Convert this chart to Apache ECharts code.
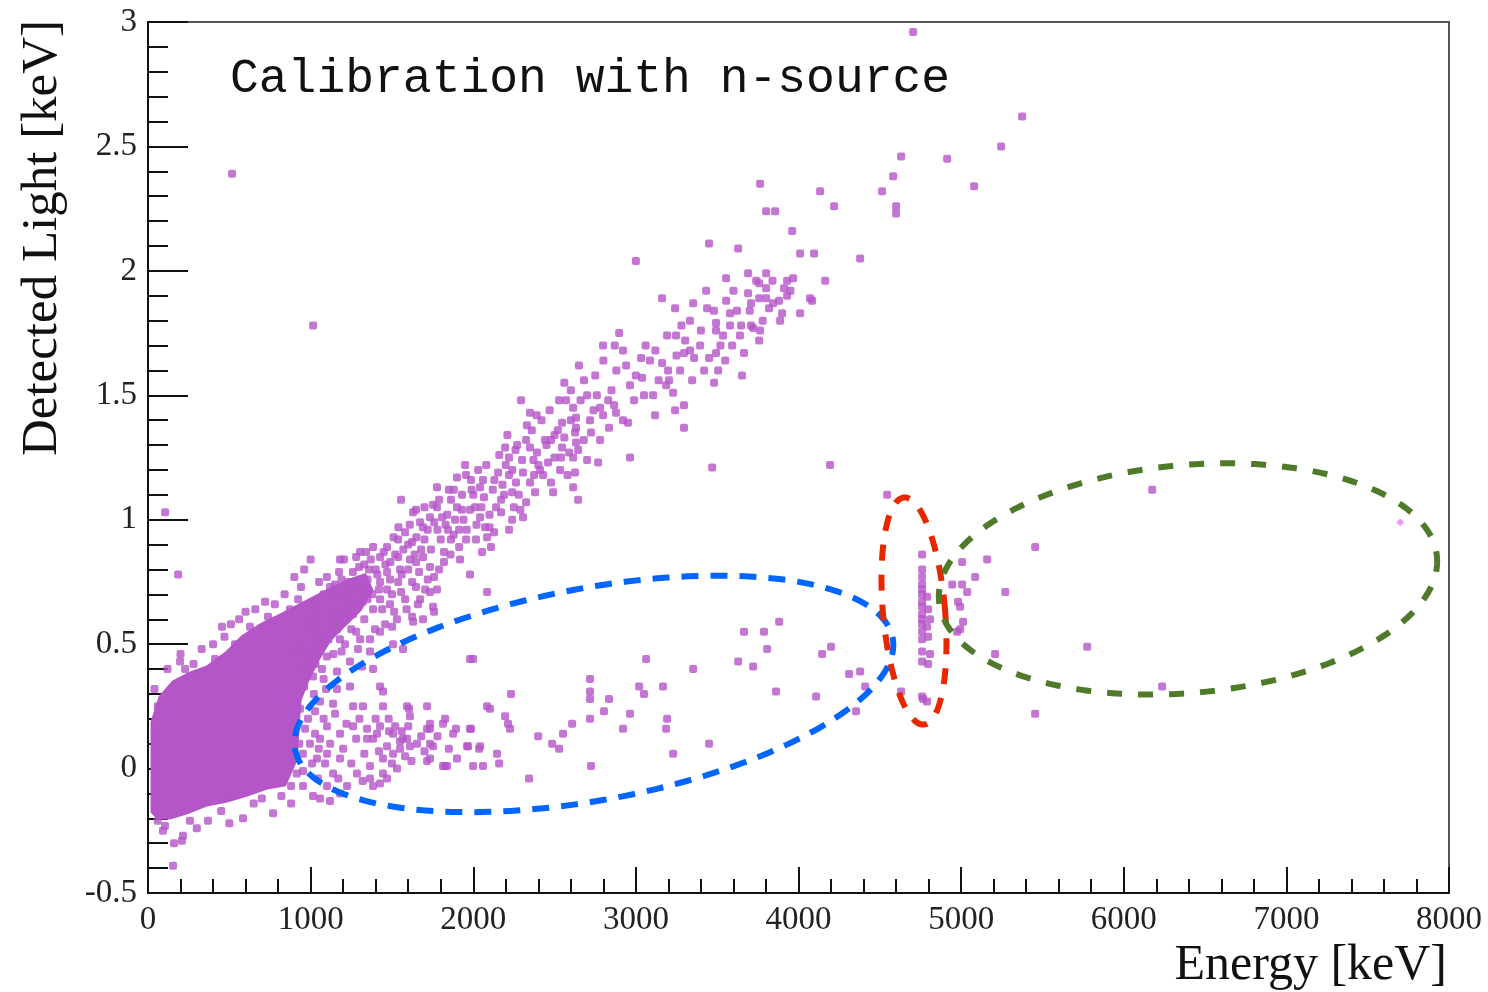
<!DOCTYPE html>
<html>
<head>
<meta charset="utf-8">
<script src="https://cdn.jsdelivr.net/npm/echarts@6/dist/echarts.min.js"></script>
<style>html,body{margin:0;padding:0;background:#fff}#c{width:1488px;height:992px}</style>
</head>
<body>
<div id="c"></div>
<script>
// ---- Axis ticks ----
const xTicks = [0, 1000, 2000, 3000, 4000, 5000, 6000, 7000, 8000];
const yTicks = [-0.5, 0, 0.5, 1, 1.5, 2, 2.5, 3];

// ---- Data (Energy [keV], Detected Light [keV]) ----
const outlierPoints = [[517,2.39],[1015,1.78],[4705,2.96],[105,1.03],[185,0.78],[154,-0.39]];

const upperBandPoints = [[5375,2.62],[5246,2.50],[4914,2.45],[5080,2.34],[4631,2.46],[4582,2.38],[4514,2.32],[4600,2.26],[4600,2.23],[4379,2.05],[4133,2.32],[4219,2.26],[3764,2.35],[3801,2.24],[3856,2.24],[3961,2.16],[4010,2.07],[4096,2.07],[4164,1.96],[4071,1.89],[3450,2.11],[3629,2.09],[3000,2.04],[3161,1.89],[3241,1.85],[3352,1.87],[3438,1.85],[3333,1.80],[3432,1.92],[3555,1.97],[3690,1.99],[3801,1.99],[3758,1.95],[3801,1.93],[3930,1.96],[3967,1.97],[3690,1.91],[3708,1.87],[3758,1.89],[3801,1.89],[3844,1.87],[3911,1.93],[3930,1.90],[3555,1.88],[3579,1.83],[3622,1.84],[3819,1.85],[3899,1.83],[3493,1.79],[3579,1.78],[3708,1.78],[4084,1.88],[4194,1.22],[3469,1.21]];

const bandPoints = [[2897,1.75],[2798,1.70],[2921,1.68],[3032,1.65],[3192,1.74],[3247,1.74],[3303,1.72],[3493,1.76],[3536,1.74],[3647,1.78],[3721,1.77],[3758,1.72],[3296,1.67],[3358,1.65],[3450,1.65],[3493,1.67],[3549,1.64],[3592,1.70],[3665,1.67],[3161,1.63],[3198,1.60],[3204,1.56],[3186,1.54],[3229,1.51],[3272,1.60],[3346,1.56],[3481,1.55],[3506,1.60],[3653,1.58],[3296,1.46],[3241,1.44],[3296,1.37],[3106,1.50],[3050,1.50],[2989,1.48],[3118,1.42],[3087,1.64],[3038,1.57],[2964,1.54],[2866,1.46],[2878,1.43],[2921,1.40],[2952,1.39],[2780,1.45],[2798,1.42],[2835,1.37],[2681,1.56],[2724,1.35],[2614,1.45],[2632,1.41],[2632,1.37],[2626,1.35],[2632,1.31],[2645,1.28],[2614,1.25],[2626,1.19],[2614,1.13],[2645,1.08],[2546,1.39],[2571,1.48],[2528,1.48],[2478,1.32],[2546,1.29],[2589,1.27],[2392,1.27],[2460,1.23],[2478,1.15],[2491,1.11],[2700,1.24],[2768,1.23],[2964,1.25],[2294,1.48],[2349,1.43],[2325,1.32],[2349,1.29],[2196,1.29],[2220,1.25],[2306,1.19],[2374,1.18],[2349,1.15],[2380,1.11],[2153,1.19],[2220,1.18],[2263,1.15],[2239,1.11],[1956,1.18],[1986,1.16],[2042,1.13],[2066,1.09],[1777,1.13],[1863,1.08],[1931,1.10],[2171,1.08],[2140,1.05],[2171,1.03],[2239,1.00],[2220,0.96],[2325,1.07],[2306,1.01],[2011,1.05],[2042,1.01],[2073,0.97],[2085,0.93],[2128,0.95],[2109,0.89],[2017,0.92],[2054,0.87],[1648,1.04],[1734,1.01],[1691,0.97],[1777,1.05],[1808,1.01],[1845,0.96],[1863,0.92],[1913,0.96],[1956,0.92],[1913,0.89],[1556,1.08],[1538,0.92],[1581,0.95],[1624,0.91],[1691,0.85],[1734,0.81],[1759,0.77],[1777,0.72],[1820,0.87],[1820,0.83],[1648,0.83],[1667,0.79],[1624,0.75],[1470,0.89],[1538,0.85],[1341,0.87],[1427,0.85],[1298,0.81],[1359,0.80],[1470,0.79],[1538,0.75],[1205,0.84],[1175,0.79],[1052,0.75],[1119,0.73],[1248,0.72],[1341,0.71],[1427,0.75],[1470,0.72],[1556,0.71],[1648,0.73],[1734,0.71],[941,0.73],[923,0.68],[1033,0.65],[1144,0.63],[1248,0.65],[1384,0.64],[1513,0.63],[1624,0.61],[1691,0.60],[1759,0.63],[2085,0.71],[1181,0.84],[1304,0.87],[1384,0.89],[1630,1.03],[1673,0.99],[1753,1.06],[1427,0.68],[1488,0.66],[1581,0.68],[1673,0.68],[1704,0.72],[1396,0.56],[1304,0.52],[1458,0.58],[1550,0.80],[1488,0.76],[1611,0.84],[1888,1.00],[1980,1.04],[1919,0.84],[1980,0.78],[2411,1.20],[2441,1.32],[2534,1.20],[2718,1.40],[2780,1.32],[3333,1.68],[3395,1.70],[3764,1.76],[3887,1.80],[4010,1.83],
[1080,0.70],[1120,0.68],[1160,0.70],[1200,0.68],[1230,0.75],[1270,0.70],[1300,0.74],[1320,0.67],[1350,0.76],[1380,0.70],[1400,0.80],[1420,0.72],[1440,0.64],[1460,0.82],[1500,0.70],[1520,0.86],[1560,0.78],[1590,0.64],[1600,0.90],[1640,0.86],[1660,0.66],[1700,0.92],[1720,0.76],[1740,0.88],[1780,0.96],[1790,0.80],[1800,0.92],[1840,1.02],[1860,0.86],[1880,1.12],[1900,1.05],[1940,1.00],[1960,0.96],[2000,1.10],[2020,0.98],[2060,1.16],[2100,1.02],[2120,1.12],[2180,1.14],[2200,1.22],[2250,1.05],[2260,1.28],[2280,1.10],[2300,1.24],[2360,1.36],[2400,1.22],[2420,1.40],[2450,1.30],[2500,1.25],[2520,1.36],[2560,1.33],[2580,1.18],[2600,1.52],[2660,1.48],[2680,1.32],[2740,1.44],[2760,1.50],[2850,1.52],[2880,1.60],[2940,1.62],[3000,1.58],[3060,1.70],[3120,1.68],[3140,1.56],[3250,1.66],[3280,1.78],[3400,1.76],[3420,1.60],[3480,1.84],[3520,1.70],[3600,1.92],[3640,1.74],[3700,1.84],[3740,1.96],[3780,1.80],[3840,1.96],[3880,1.88],[3950,1.92],
[1100,0.77],[1150,0.74],[1190,0.76],[1260,0.79],[1280,0.85],[1330,0.82],[1370,0.84],[1410,0.78],[1450,0.87],[1490,0.83],[1510,0.93],[1540,0.97],[1570,0.88],[1600,0.80],[1610,0.98],[1650,0.93],[1680,0.88],[1700,1.05],[1720,0.96],[1760,0.99],[1790,1.08],[1830,0.98],[1850,1.12],[1880,0.94],[1900,1.17],[1930,1.04],[1950,1.22],[1990,1.12],[2030,1.20],[2050,1.05],[2080,1.22],[2100,0.97],[2130,1.16],[2160,1.26],[2190,1.10],[2210,1.34],[2240,1.20],[2270,1.30],[2290,1.04],[2330,1.38],[2370,1.24],[2390,1.42],[2430,1.18],[2470,1.44],[2500,1.34],[2540,1.25],[2560,1.55],[2600,1.40],[2650,1.62],[2700,1.50],[2750,1.58],[2800,1.64],[2830,1.48],[2870,1.70]];

const blobFringePoints = [[197,0.43],[455,0.57],[332,0.36],[258,0.37],[627,0.57],[738,0.61],[769,0.59],[228,0.40],[412,0.44],[535,0.50],[658,0.55],[873,0.64],[105,-0.23],[92,-0.25],[215,-0.27],[209,-0.29],[258,-0.21],[369,-0.21],[584,-0.20],[769,-0.18],[1058,-0.12],[1119,-0.13],[953,-0.07],[1015,-0.11],[1101,-0.07],[1181,-0.10],[966,0.16],[996,0.10],[1027,0.14],[953,0.06],[1009,0.02],[1058,0.12],[1089,0.02],[984,0.20],[1027,0.23],[935,0.24],[953,-0.01],[1045,-0.04],[1211,0.50],[1291,0.48],[1365,0.52],[1427,0.55],[1501,0.57],[1242,0.43],[1316,0.41],[1162,0.39],[1095,0.32],[1138,0.26],
[1000,0.48],[1050,0.55],[1100,0.45],[1130,0.58],[1180,0.52],[1250,0.56],[1070,0.40],[960,0.50],[1020,0.30],
[940,0.40],[960,0.33],[990,0.45],[1010,0.52],[1030,0.42],[1060,0.48],[1080,0.36],[1110,0.52],[1140,0.46],[1160,0.56],[1190,0.47],[1220,0.60],[1260,0.62],[1280,0.55],[1330,0.60],[1350,0.68],[1000,0.58],[1060,0.62],[950,0.58],[920,0.47],[925,0.36],[930,0.10],[915,-0.02],[880,-0.07],[870,0.05],
[120,0.40],[200,0.46],[280,0.42],[330,0.48],[400,0.50],[470,0.53],[510,0.58],[560,0.60],[600,0.63],[660,0.64],[720,0.67],[780,0.66],[840,0.70],[900,0.77],[960,0.80],[1000,0.84],[40,0.32],[60,0.25],
[300,-0.24],[450,-0.17],[500,-0.22],[650,-0.14],[700,-0.12],[820,-0.11],[880,-0.14],[160,-0.30],[60,-0.21]];

const lowBranchPoints = [[1101,0.17],[1181,0.14],[1261,0.17],[1347,0.16],[1427,0.17],[1507,0.14],[1568,0.12],[1611,0.09],[1384,0.12],[1470,0.09],[1507,0.06],[1445,0.04],[1365,0.01],[1285,-0.02],[1181,0.04],[1101,0.06],[1039,0.04],[1138,-0.02],[1224,-0.07],[1365,-0.04],[1384,-0.07],[1470,-0.04],[1531,0.00],[1716,0.16],[1753,0.09],[1734,0.04],[1814,0.01],[1876,0.14],[1980,0.16],[1968,0.09],[2042,0.09],[1999,0.01],[2060,0.01],[1716,0.25],[1593,0.25],[1611,0.21],[1445,0.25],[1261,0.25],[1322,0.25],[1427,0.33],[1445,0.31],[1242,0.33],[1162,0.32],[1058,0.27],[1015,0.37],[978,0.40],[1365,0.47],[1384,0.40],[1507,0.50],[1568,0.48],[1531,0.60],[1630,0.59],[1753,0.65],[1980,0.44],[2085,0.25],[1347,0.12],[1408,0.14],[1593,0.12],[1550,0.08],[1654,0.10],[1734,0.16],[1734,0.10],[1814,0.18],[1839,0.01],[2103,0.24],[1427,-0.06],[1445,-0.02],
[1050,0.08],[1080,0.20],[1120,0.10],[1150,0.22],[1170,-0.04],[1200,0.08],[1220,0.18],[1250,0.02],[1280,0.12],[1300,0.20],[1320,-0.05],[1330,0.06],[1400,0.20],[1420,0.07],[1480,0.20],[1500,0.02],[1520,0.17],[1560,0.15],[1600,0.17],[1620,0.03],[1680,0.13],[1700,0.07],[1780,0.13],[1850,0.08],[1900,0.04]];

const sparsePoints = [[1999,0.44],[2232,0.30],[2196,0.21],[2214,0.18],[2226,0.16],[1986,0.16],[1962,0.09],[2036,0.08],[2146,0.06],[2159,0.02],[1716,0.03],[1827,0.01],[1734,0.18],[1894,0.16],[1827,0.20],[1605,0.24],[1482,0.15],[1550,0.11],[1581,0.05],[2399,0.13],[2485,0.10],[2528,0.08],[2552,0.14],[2608,0.18],[2343,-0.04],[2718,0.36],[2718,0.31],[2718,0.28],[2835,0.28],[2718,0.20],[2804,0.23],[2724,0.01],[2921,0.16],[2964,0.22],[3063,0.44],[3020,0.33],[3050,0.30],[3167,0.33],[3192,0.20],[3186,0.16],[3229,0.06],[3450,0.10],[3352,0.40],[3629,0.43],[3665,0.55],[3788,0.55],[3881,0.59],[3807,0.48],[3721,0.41],[3862,0.31],[4108,0.29],[4145,0.46],[4200,0.49],[4311,0.38],[4379,0.39],[4410,0.33],[4631,0.31],[4766,0.28],[4354,0.23]];

const highEnergyPoints = [[4545,1.10],[4760,0.86],[4760,0.80],[4760,0.77],[4760,0.74],[4760,0.72],[4760,0.70],[4760,0.67],[4760,0.65],[4760,0.62],[4760,0.60],[4760,0.58],[4760,0.55],[4760,0.52],[4790,0.69],[4797,0.64],[4809,0.60],[4790,0.57],[4797,0.53],[4760,0.47],[4809,0.46],[4760,0.43],[4797,0.42],[4760,0.29],[4790,0.27],[5006,0.83],[5160,0.84],[5086,0.77],[4945,0.74],[5006,0.74],[5037,0.71],[4981,0.67],[4994,0.65],[5271,0.71],[5012,0.59],[4994,0.56],[4975,0.55],[5209,0.46],[5455,0.89],[5455,0.22],[6175,1.12],[5775,0.49],[6236,0.33]];

const lightPoints = [[7700,0.99]];

// Outline of the saturated low-energy cluster (data units)
const denseCoreOutline = [[25,-0.174],[25,0.187],[74,0.288],[154,0.348],[258,0.384],[363,0.408],[486,0.468],[578,0.529],[689,0.577],[812,0.617],[922,0.654],[1027,0.690],[1137,0.726],[1242,0.758],[1334,0.778],[1377,0.717],[1304,0.637],[1211,0.577],[1119,0.517],[1045,0.436],[984,0.356],[935,0.276],[922,0.155],[910,0.035],[842,-0.066],[732,-0.078],[609,-0.106],[486,-0.130],[363,-0.146],[240,-0.178],[135,-0.199],[61,-0.199]];

// Annotation ellipses: centre (keV, keV), semi-axes (keV along energy, keV along light), tilt (deg)
const ellipseCentersX = [2742, 4710, 6395];
const ellipseCentersY = [0.300, 0.633, 0.762];
const ellipseSemiX = [1869, 191, 1537];
const ellipseSemiY = [0.426, 0.458, 0.458];
const ellipseTilt = [-10.6, -5, -5.1];

const PURPLE = '#b455c8';
const ellipseColors = ['#0066ff', '#e62800', '#4e7a2a'];
const ellipseDash = [[17, 12], [16, 14], [15, 16]];

const chart = echarts.init(document.getElementById('c'), null, {renderer: 'canvas'});

const scatterStyle = (data, name) => ({
  type: 'scatter', name, data, symbol: 'roundRect', symbolSize: 8,
  itemStyle: {color: PURPLE}, z: 3, silent: true, animation: false
});

const option = {
  animation: false,
  backgroundColor: '#fff',
  title: {
    text: 'Calibration with n-source', left: 230, top: 55, padding: 0,
    textStyle: {fontFamily: 'Liberation Mono', fontSize: 48, fontWeight: 'normal', color: '#111'}
  },
  grid: {left: 148, right: 39, top: 22, bottom: 99, show: true, borderColor: '#555', borderWidth: 2, outerBoundsMode: 'none', containLabel: false},
  xAxis: {
    type: 'value', min: xTicks[0], max: xTicks[xTicks.length - 1], interval: 1000,
    axisLine: {show: true, onZero: false, lineStyle: {color: '#111', width: 2}},
    axisTick: {show: true, inside: true, length: 26, lineStyle: {color: '#111', width: 2}},
    minorTick: {show: true, splitNumber: 5, length: 14, lineStyle: {color: '#111', width: 2}},
    splitLine: {show: false},
    axisLabel: {margin: 11, fontFamily: 'Liberation Serif', fontSize: 33, color: '#222', showMinLabel: true, showMaxLabel: true, formatter: v => String(v)}
  },
  yAxis: {
    type: 'value', min: yTicks[0], max: yTicks[yTicks.length - 1], interval: 0.5,
    axisLine: {show: true, onZero: false, lineStyle: {color: '#111', width: 2}},
    axisTick: {show: true, inside: true, length: 40, lineStyle: {color: '#111', width: 2}},
    minorTick: {show: true, splitNumber: 5, length: 20, lineStyle: {color: '#111', width: 2}},
    splitLine: {show: false},
    axisLabel: {margin: 11, fontFamily: 'Liberation Serif', fontSize: 33, color: '#222', showMinLabel: true, showMaxLabel: true, formatter: v => String(v)}
  },
  graphic: [
    {type: 'text', x: 1447, y: 966, silent: true,
      style: {text: 'Energy [keV]', font: '50px "Liberation Serif"', fill: '#111', align: 'right', textAlign: 'right', verticalAlign: 'middle', textVerticalAlign: 'middle'}},
    {type: 'text', x: 43, y: 238, rotation: Math.PI / 2, silent: true,
      style: {text: 'Detected Light [keV]', font: '51px "Liberation Serif"', fill: '#111', align: 'center', textAlign: 'center', verticalAlign: 'middle', textVerticalAlign: 'middle'}}
  ],
  series: [
    {
      type: 'custom', name: 'dense core', coordinateSystem: 'cartesian2d', data: [[0, 0]], z: 2, silent: true,
      renderItem: (params, api) => ({
        type: 'polygon',
        shape: {points: denseCoreOutline.map(p => api.coord(p))},
        style: {fill: PURPLE, stroke: PURPLE, lineWidth: 3}
      })
    },
    scatterStyle(blobFringePoints, 'fringe'),
    scatterStyle(bandPoints, 'band'),
    scatterStyle(upperBandPoints, 'upper band'),
    scatterStyle(lowBranchPoints, 'low branch'),
    scatterStyle(sparsePoints, 'sparse'),
    scatterStyle(highEnergyPoints, 'high energy'),
    scatterStyle(outlierPoints, 'outliers'),
    {type: 'scatter', name: 'light', data: lightPoints, symbol: 'diamond', symbolSize: 8, itemStyle: {color: '#ee80f6'}, z: 3, silent: true},
    {
      type: 'custom', name: 'ellipses', coordinateSystem: 'cartesian2d', z: 5, silent: true, clip: false,
      data: ellipseCentersX.map((x, i) => [x, ellipseCentersY[i], ellipseSemiX[i], ellipseSemiY[i], ellipseTilt[i]]),
      renderItem: (params, api) => {
        const c = api.coord([api.value(0), api.value(1)]);
        const a = api.size([api.value(2), 0])[0];
        const b = api.size([0, api.value(3)])[1];
        const th = api.value(4) * Math.PI / 180;
        const pts = [];
        const N = 180;
        for (let k = 0; k < N; k++) {
          const t = 2 * Math.PI * k / N;
          pts.push([
            c[0] + a * Math.cos(t) * Math.cos(th) - b * Math.sin(t) * Math.sin(th),
            c[1] + a * Math.cos(t) * Math.sin(th) + b * Math.sin(t) * Math.cos(th)
          ]);
        }
        const i = params.dataIndex;
        return {
          type: 'polygon', shape: {points: pts},
          style: {fill: null, stroke: ellipseColors[i], lineWidth: 6, lineDash: ellipseDash[i], lineCap: 'butt'}
        };
      }
    }
  ]
};
chart.setOption(option);
</script>
</body>
</html>
